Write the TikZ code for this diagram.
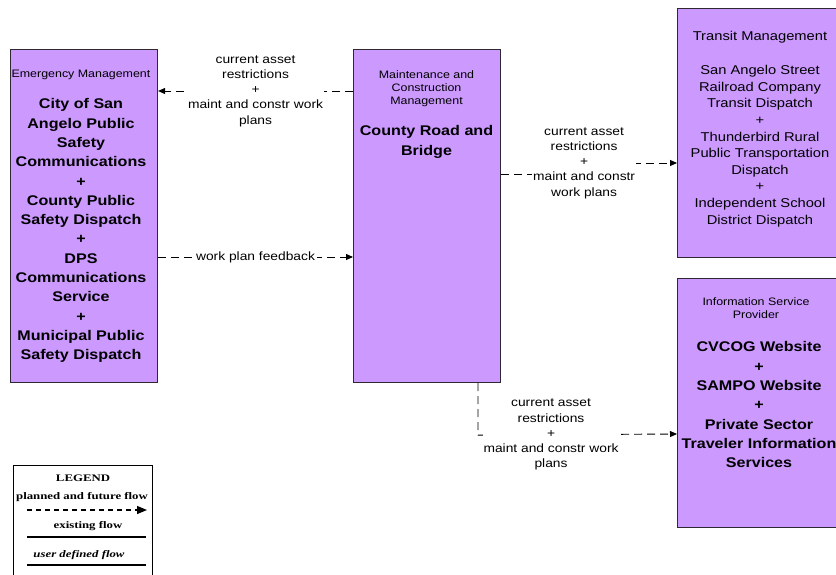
\documentclass[tikz,border=0pt]{standalone}
\usepackage{fontspec}
\setmainfont{Liberation Sans}
\newfontfamily\wf[FakeStretch=1.15]{Liberation Sans}
\newfontfamily\lgf[FakeStretch=1.28]{Liberation Serif}
\usetikzlibrary{arrows.meta,calc}
\definecolor{boxfill}{RGB}{204,153,255}
\definecolor{boxline}{RGB}{45,40,50}
\tikzset{
  box/.style={draw=boxline, fill=boxfill, line width=1.1pt, anchor=north west, inner sep=0pt},
  small/.style={anchor=north, inner sep=0pt, align=center, font=\wf\fontsize{10.8}{13}\selectfont},
  big/.style={anchor=north, inner sep=0pt, align=center, font=\wf\bfseries\fontsize{14}{19.3}\selectfont},
  mid/.style={anchor=north, inner sep=0pt, align=center, font=\wf\fontsize{12.8}{16.6}\selectfont},
  lbl/.style={fill=white, inner sep=1pt, align=center, font=\wf\fontsize{12}{15.2}\selectfont},
  flow/.style={draw=black, line width=0.9pt, dash pattern=on 8pt off 5pt, -{Triangle[length=7pt,width=6pt]}},
  lgt/.style={inner sep=0pt, font=\lgf\bfseries\fontsize{10}{12}\selectfont},
  lgline/.style={line width=1.2pt}
}
\begin{document}
\begin{tikzpicture}[x=1pt,y=-1pt]
\useasboundingbox (0,0) rectangle (836,575);

% boxes
\node[box, minimum width=147pt, minimum height=333pt] (em) at (10,49) {};
\node[box, minimum width=147pt, minimum height=333pt] (mcm) at (353,49) {};
\node[box, minimum width=159pt, minimum height=249pt] (tm) at (677,8) {};
\node[box, minimum width=159pt, minimum height=249pt] (isp) at (677,278) {};

% box texts
\node[small] (emt) at (81,70) {Emergency Management};
\node[big] (emb) at (81,98.5) {City of San\\Angelo Public\\Safety\\Communications\\+\\County Public\\Safety Dispatch\\+\\DPS\\Communications\\Service\\+\\Municipal Public\\Safety Dispatch};

\node[small] (mcmt) at (426.5,70) {Maintenance and\\Construction\\Management};
\node[big] (mcmb) at (426.5,125.5) {County Road and\\Bridge};

\node[mid] (tmt) at (760,31.5) {Transit Management};
\node[mid] (tmb) at (760,65.3) {San Angelo Street\\Railroad Company\\Transit Dispatch\\+\\Thunderbird Rural\\Public Transportation\\Dispatch\\+\\Independent School\\District Dispatch};

\node[small] (ispt) at (756,297) {Information Service\\Provider};
\node[big] (ispb) at (759,341.5) {CVCOG Website\\+\\SAMPO Website\\+\\Private Sector\\Traveler Information\\Services};

% connectors
\draw[flow] ($(mcm.north west)+(0,42)$) -- node[lbl] (l1) {current asset\\restrictions\\+\\maint and constr work\\plans} ($(em.north east)+(0,42)$);

\draw[flow] ($(em.north east)+(0,208)$) -- node[lbl, inner sep=1.5pt] (l4) {work plan feedback} ($(mcm.north west)+(0,208)$);

\draw[flow] ($(mcm.north east)+(0,125)$) -- ++(83,0) -- ++(0,-11) node[lbl] (l2) {current asset\\restrictions\\+\\maint and constr\\work plans} -- ($(tm.north west)+(0,155)$);

\draw[flow] ($(mcm.south west)+(125,0)$) -- ++(0,52) -- node[lbl, pos=0.367] (l3) {current asset\\restrictions\\+\\maint and constr work\\plans} ($(isp.north west)+(0,156)$);

% legend
\node[draw=black, line width=0.8pt, anchor=north west, inner sep=0pt, minimum width=139pt, minimum height=112pt] (legend) at (13,465) {};
\node[lgt] (lg1) at (83,478) {LEGEND};
\node[lgt] (lg2) at (82,497) {planned and future flow};
\coordinate (d1) at (27,510);
\coordinate (d2) at (147,510);
\draw[line width=1.2pt, dash pattern=on 5pt off 4pt, -{Triangle[length=10pt,width=8pt]}] (d1) -- (d2);
\node[lgt] (lg3) at (88,526) {existing flow};
\coordinate (e1) at (27,537);
\coordinate (e2) at (146,537);
\draw[lgline] (e1) -- (e2);
\node[lgt, font=\lgf\bfseries\itshape\fontsize{10}{12}\selectfont] (lg4) at (79,555) {user defined flow};
\coordinate (u1) at (27,565);
\coordinate (u2) at (146,565);
\draw[lgline] (u1) -- (u2);
\end{tikzpicture}
\end{document}
